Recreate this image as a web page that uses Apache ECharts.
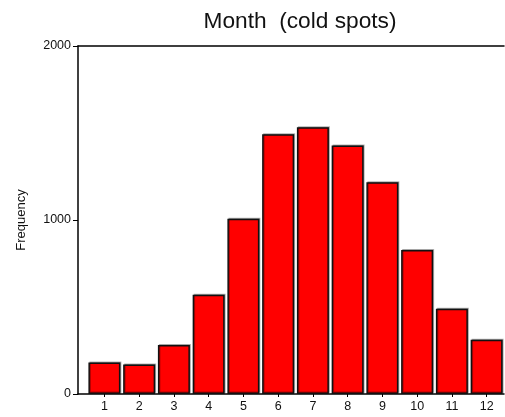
<!DOCTYPE html>
<html><head><meta charset="utf-8">
<script src="https://cdn.jsdelivr.net/npm/echarts@6/dist/echarts.min.js"></script>
<style>html,body{margin:0;padding:0;background:#fff}#c{width:505px;height:417px}</style>
</head><body><div id="c"></div>
<script>
const months = [1,2,3,4,5,6,7,8,9,10,11,12];
const frequency = [181,170,281,570,1007,1493,1533,1428,1217,827,490,312];
const yTicks = [0,1000,2000];

const chart = echarts.init(document.getElementById('c'));
const font = 'Liberation Sans, Arial, sans-serif';
chart.setOption({
  animation:false,
  title:{text:'Month  (cold spots)', left:295, top:5, textAlign:'center',
    textStyle:{fontFamily:font, fontSize:22.7, fontWeight:'normal', color:'#111'}},
  grid:{left:78, right:1, top:46, bottom:23, containLabel:false},
  xAxis:[{
    type:'value', min:0.24, max:12.5, position:'bottom',
    axisLine:{show:true, lineStyle:{color:'#000', width:1.5}},
    axisTick:{show:true, length:3, lineStyle:{color:'#000'}, customValues:months},
    axisLabel:{customValues:months, fontFamily:font, fontSize:12.5, color:'#111', margin:6},
    splitLine:{show:false}
  },{
    type:'value', min:0.24, max:12.5, position:'top',
    axisLine:{show:true, lineStyle:{color:'#000', width:1.5}},
    axisTick:{show:false}, axisLabel:{show:false}, splitLine:{show:false}
  }],
  yAxis:{
    type:'value', min:0, max:2000, interval:1000,
    name:'Frequency', nameLocation:'middle', nameGap:50, nameRotate:90,
    nameTextStyle:{fontFamily:font, fontSize:13, color:'#111'},
    axisLine:{show:true, lineStyle:{color:'#000', width:1.5}},
    axisTick:{show:true, length:5, lineStyle:{color:'#000'}},
    axisLabel:{fontFamily:font, fontSize:12.5, color:'#111', margin:7,
      formatter:v => yTicks.includes(v) ? String(v) : ''},
    splitLine:{show:false}
  },
  series:[{
    type:'bar', xAxisIndex:0,
    data: months.map((m,i)=>[m, frequency[i]]),
    barWidth:32,
    itemStyle:{color:'#ff0000', borderColor:'#111', borderWidth:1.5,
      shadowColor:'rgba(0,0,0,0.3)', shadowBlur:0, shadowOffsetX:1, shadowOffsetY:-1}
  }]
});
</script></body></html>
